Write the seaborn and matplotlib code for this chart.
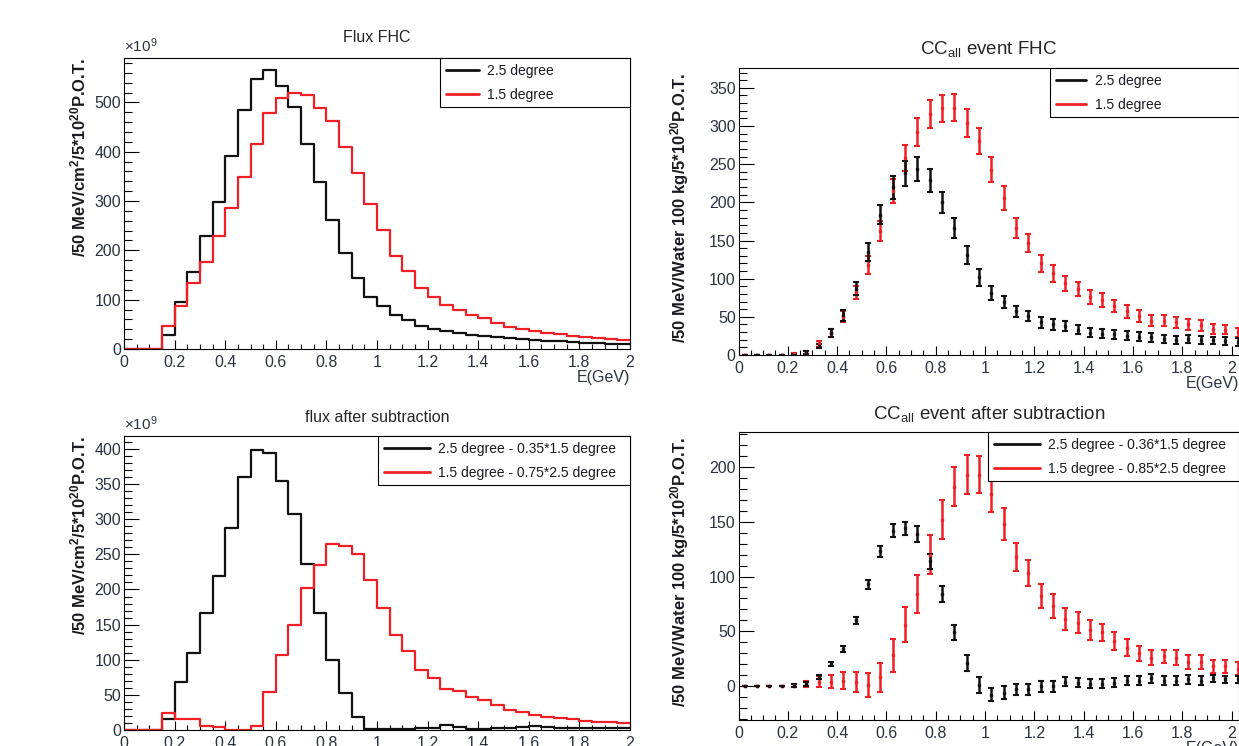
import numpy as np
import pandas as pd
import matplotlib
matplotlib.use('Agg')
import matplotlib.pyplot as plt
from matplotlib.lines import Line2D
from matplotlib.ticker import MultipleLocator
import seaborn as sns

# ---- данные (бины по 50 МэВ, 0..2 ГэВ) ----
edges = np.round(np.arange(0, 2.0001, 0.05), 3)
centers = np.round(edges[:-1] + 0.025, 3)
pts = np.round(np.arange(0.025, 2.03, 0.05), 3)   # точки CC (до 2.025)

# поток FHC, x1e9
flux_25 = [0, 0, 0, 28, 96, 157, 229, 299, 391, 484, 547, 565, 533, 491, 416, 338, 261, 194, 143, 106,
           87, 69, 58, 47, 41, 37, 33, 29, 27, 25, 22, 20, 18, 17, 16, 15, 13, 12, 11, 10]
flux_15 = [0, 0, 0, 47, 87, 133, 177, 229, 286, 349, 415, 478, 508, 520, 515, 488, 462, 409, 357, 295,
           242, 188, 158, 124, 105, 90, 80, 68, 63, 52, 45, 41, 36, 33, 30, 27, 24, 22, 20, 19]

# поток после вычитания, x1e9
sub_flux_25 = [0, 0, 0, 15, 68, 110, 167, 219, 288, 360, 398, 395, 354, 308, 236, 167, 100, 53, 19, 2,
               1, 2, 2, 3, 3, 7, 4, 2, 2, 3, 3, 4, 5, 4, 3, 3, 3, 3, 3, 3]
sub_flux_15 = [0, 0, 0, 24, 15, 15, 6, 4, 0, 0, 6, 54, 107, 149, 202, 235, 265, 262, 250, 214,
               174, 135, 112, 86, 74, 59, 55, 47, 43, 35, 29, 25, 22, 19, 17, 15, 13, 11, 11, 10]

# события CC_all FHC
cc_25 = [0, 0, 0, 0, 0.5, 3, 12, 29, 52, 87, 135, 184, 220, 238, 244, 229, 200, 166, 131, 102,
         81, 69, 57, 51, 43, 40, 38, 33, 29, 28, 27, 25, 24, 23, 21, 20, 21, 20, 19, 18, 17]
cc_25_err = [0, 0, 0, 0, 1, 2, 3, 5, 7, 9, 12, 12, 15, 16, 16, 15, 14, 13, 12, 11,
             9, 8, 7, 7, 7, 7, 6, 6, 6, 6, 6, 6, 6, 6, 5, 5, 5, 5, 5, 5, 5]
cc_15 = [0, 0, 0, 0, 1, 3, 14, 29, 50, 82, 118, 163, 215, 258, 292, 316, 323, 324, 304, 280,
         243, 206, 166, 147, 120, 107, 94, 86, 76, 72, 64, 57, 51, 45, 45, 43, 40, 39, 34, 33, 30]
cc_15_err = [0, 0, 0, 0, 1, 2, 4, 5, 7, 9, 12, 13, 16, 17, 18, 18, 18, 18, 18, 17,
             16, 16, 13, 12, 11, 11, 10, 9, 9, 9, 8, 8, 8, 7, 7, 7, 7, 7, 7, 6, 6]

# события CC_all после вычитания
sub_cc_25 = [0, 0, 0, 0, 0.5, 2, 8, 20, 34, 60, 93, 123, 142, 144, 139, 114, 84, 49, 21, 1,
             -8, -6, -3, -3, 0, 0, 4, 3, 2, 2, 3, 5, 5, 7, 5, 5, 6, 5, 7, 6, 6]
sub_cc_25_err = [0, 0, 0, 0, 1, 2, 2, 2, 3, 3, 4, 5, 6, 6, 7, 7, 7, 7, 7, 7,
                 6, 6, 5, 5, 5, 5, 4, 4, 4, 4, 4, 4, 4, 4, 4, 4, 4, 4, 3, 3, 3]
sub_cc_15 = [0, 0, 0, 0, 0.5, 2, 4, 4, 5, 4, 1, 8, 28, 56, 84, 120, 152, 182, 193, 193,
             175, 148, 118, 103, 82, 73, 61, 58, 51, 49, 41, 35, 30, 26, 27, 26, 22, 22, 18, 18, 16]
sub_cc_15_err = [0, 0, 0, 0, 1, 3, 5, 6, 8, 9, 11, 13, 15, 16, 17, 18, 18, 18, 18, 17,
                 16, 15, 13, 12, 11, 11, 10, 10, 9, 8, 8, 8, 7, 7, 6, 7, 6, 6, 6, 6, 6]

leg_fhc = ['2.5 degree', '1.5 degree']
leg_sub_flux = ['2.5 degree - 0.35*1.5 degree', '1.5 degree - 0.75*2.5 degree']
leg_sub_cc = ['2.5 degree - 0.36*1.5 degree', '1.5 degree - 0.85*2.5 degree']

ylab_flux = r'/50 MeV/cm$^{2}$/5*10$^{20}$P.O.T.'
ylab_cc = r'/50 MeV/Water 100 kg/5*10$^{20}$P.O.T.'

BLACK = '#111111'
RED = '#ee2025'
TICKTXT = '#2c3340'

# ---- стиль ----
sns.set_theme(style='white')
plt.rcParams['font.family'] = ['Liberation Sans', 'DejaVu Sans']
plt.rcParams['mathtext.default'] = 'regular'
plt.rcParams['axes.edgecolor'] = 'black'
plt.rcParams['axes.linewidth'] = 0.8

W, H = 1239, 746
fig = plt.figure(figsize=(W / 100, H / 100), dpi=100)
fig.patch.set_facecolor('white')


def box(l, r, t, b):
    return [l / W, 1 - b / H, (r - l) / W, (b - t) / H]


ax_tl = fig.add_axes(box(124, 630, 58, 349))
ax_bl = fig.add_axes(box(124, 630, 436, 730))
ax_tr = fig.add_axes(box(738.5, 1239, 68, 355))
ax_br = fig.add_axes(box(738.5, 1239, 432, 720))


def style(ax, xmax, ylim, ymaj, ymin, ylabel, label_x, label_y):
    ax.set_xlim(0, xmax)
    ax.set_ylim(*ylim)
    ax.xaxis.set_major_locator(MultipleLocator(0.2))
    ax.xaxis.set_minor_locator(MultipleLocator(0.05))
    ax.yaxis.set_major_locator(MultipleLocator(ymaj))
    ax.yaxis.set_minor_locator(MultipleLocator(ymin))
    ax.tick_params(direction='in', which='both', left=True, bottom=True, top=False, right=False,
                   colors='black', labelcolor=TICKTXT, labelsize=11.5, width=0.8)
    ax.tick_params(axis='y', which='major', length=11, pad=2)
    ax.tick_params(axis='y', which='minor', length=5.5)
    ax.tick_params(axis='x', which='major', length=6.5, pad=4)
    ax.tick_params(axis='x', which='minor', length=3.5)
    ax.xaxis.set_major_formatter(plt.FuncFormatter(lambda v, p: f'{v:g}'))
    ax.set_xlabel('E(GeV)', loc='right', fontsize=11.5, labelpad=0, color=TICKTXT)
    ax.set_ylabel(ylabel, loc='top', fontsize=12, fontweight='bold', color='#1a1a22')
    ax.yaxis.set_label_coords(label_x, label_y)
    for s in ax.spines.values():
        s.set_visible(True)
        s.set_color('black')
        s.set_linewidth(0.8)
    ax.grid(False)


def legend(ax, labels, x0, hlen):
    handles = [Line2D([], [], color=BLACK, lw=2), Line2D([], [], color=RED, lw=2)]
    leg = ax.legend(handles, labels, loc='upper left', bbox_to_anchor=(x0, 0, 1 - x0, 1),
                    mode='expand', borderaxespad=0, fontsize=10, frameon=True,
                    fancybox=False, framealpha=1, edgecolor='black', handlelength=hlen,
                    handletextpad=0.6, labelspacing=0.7, borderpad=0.42)
    leg.get_frame().set_linewidth(0.8)
    for t in leg.get_texts():
        t.set_color('#1a1a22')


def hist(ax, vals, color):
    df = pd.DataFrame({'E': centers, 'w': vals})
    sns.histplot(data=df, x='E', weights='w', binwidth=0.05, binrange=(0, 2),
                 element='step', fill=False, color=color, linewidth=1.6, ax=ax)


def points(ax, y, err, color):
    ax.errorbar(pts, y, yerr=err, fmt='s', ms=1.6, color=color, ecolor=color,
                elinewidth=1.8, capsize=2.4, capthick=1.5, lw=0)


# 1. Поток FHC
hist(ax_tl, flux_25, BLACK)
hist(ax_tl, flux_15, RED)
style(ax_tl, 2, (0, 590), 100, 20, ylab_flux, -0.071, 1.0)
ax_tl.set_title('Flux FHC', fontsize=11.5, pad=11.5)
ax_tl.text(0.0, 1.01, '×10$^{9}$', transform=ax_tl.transAxes, ha='left', va='bottom',
           fontsize=11, color=TICKTXT)
legend(ax_tl, leg_fhc, 0.6245, 2.4)

# 2. Поток после вычитания
hist(ax_bl, sub_flux_25, BLACK)
hist(ax_bl, sub_flux_15, RED)
style(ax_bl, 2, (0, 418.5), 50, 10, ylab_flux, -0.071, 1.0)
ax_bl.set_title('flux after subtraction', fontsize=11.5, pad=10)
ax_bl.text(0.0, 1.01, '×10$^{9}$', transform=ax_bl.transAxes, ha='left', va='bottom',
           fontsize=11, color=TICKTXT)
legend(ax_bl, leg_sub_flux, 0.502, 3.3)

# 3. События CC FHC
points(ax_tr, cc_15, cc_15_err, RED)
points(ax_tr, cc_25, cc_25_err, BLACK)
style(ax_tr, 2.03, (0, 376), 50, 10, ylab_cc, -0.095, 0.985)
ax_tr.set_title('CC$_{all}$ event FHC', fontsize=13.5, pad=10)
legend(ax_tr, leg_fhc, 0.622, 2.2)

# 4. События CC после вычитания
points(ax_br, sub_cc_15, sub_cc_15_err, RED)
points(ax_br, sub_cc_25, sub_cc_25_err, BLACK)
style(ax_br, 2.03, (-31, 232), 50, 10, ylab_cc, -0.095, 0.985)
ax_br.set_title('CC$_{all}$ event after subtraction', fontsize=13.5, pad=9)
legend(ax_br, leg_sub_cc, 0.4985, 3.3)

fig.savefig('out.png', dpi=100)
